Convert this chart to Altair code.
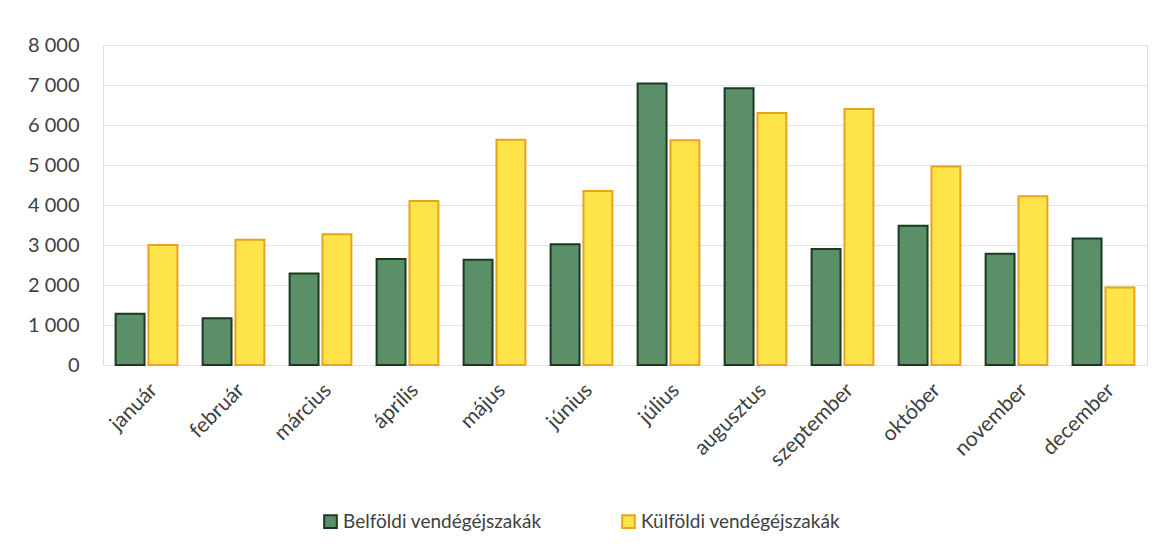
import altair as alt
import pandas as pd

months = ["január", "február", "március", "április", "május", "június",
          "július", "augusztus", "szeptember", "október", "november", "december"]
belfoldi = [1280, 1170, 2290, 2650, 2630, 3020, 7040, 6920, 2900, 3480, 2780, 3160]
kulfoldi = [3000, 3130, 3270, 4100, 5630, 4350, 5620, 6300, 6400, 4960, 4220, 1940]
series = ["Belföldi vendégéjszakák", "Külföldi vendégéjszakák"]
fills = ["#5a8f68", "#ffe54a"]
strokes = ["#1c3a22", "#e8a21c"]

rows = []
for i, m in enumerate(months):
    rows.append({"month": m, "series": series[0], "value": belfoldi[i]})
    rows.append({"month": m, "series": series[1], "value": kulfoldi[i]})
df = pd.DataFrame(rows)

FONT = "Lato"
LBL = "#404040"

legend = alt.Legend(title=None, orient="none", legendX=218, legendY=467, direction="horizontal",
                    labelFontSize=19, labelFont=FONT, labelColor=LBL, symbolType="square",
                    symbolSize=160, symbolStrokeWidth=2, columnPadding=76, labelOffset=3,
                    labelLimit=0)

chart = alt.Chart(df).mark_bar(strokeWidth=2).encode(
    x=alt.X("month:N", sort=months, title=None,
            scale=alt.Scale(paddingInner=0.29, paddingOuter=0.145),
            axis=alt.Axis(labelAngle=-45, labelFontSize=21, labelColor=LBL, labelFont=FONT,
                          ticks=False, domain=False, labelPadding=14)),
    xOffset=alt.XOffset("series:N", sort=series, scale=alt.Scale(paddingInner=0.12)),
    y=alt.Y("value:Q", title=None,
            scale=alt.Scale(domain=[0, 8000]),
            axis=alt.Axis(values=list(range(0, 8001, 1000)), labelFontSize=20, labelColor=LBL,
                          labelFont=FONT, ticks=False, domain=False, labelPadding=24,
                          gridColor="#dfe4ee", gridWidth=1,
                          labelExpr="replace(format(datum.value, ','), ',', ' ')")),
    fill=alt.Fill("series:N", sort=series, legend=legend,
                  scale=alt.Scale(domain=series, range=fills)),
    stroke=alt.Stroke("series:N", sort=series, legend=legend,
                      scale=alt.Scale(domain=series, range=strokes)),
).properties(
    width=1044, height=320,
    padding={"left": 95, "top": 37, "right": 9, "bottom": 170},
    autosize=alt.AutoSizeParams(type="none"),
).configure_view(strokeWidth=0).configure(background="white")

chart.save("out.html", embed_options={"renderer": "svg", "actions": False})
